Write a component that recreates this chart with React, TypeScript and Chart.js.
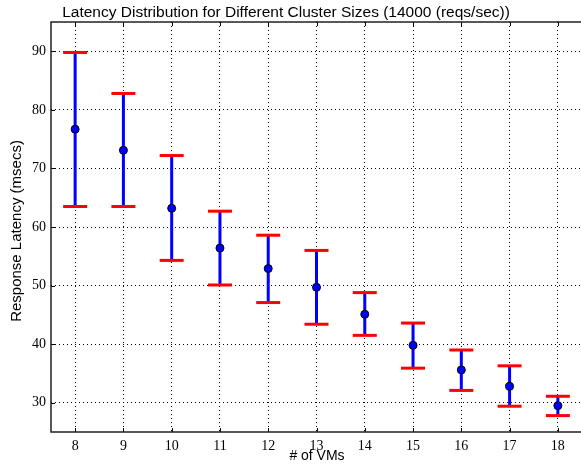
import React, { useEffect, useRef } from "react";
import { Chart, registerables } from "chart.js";

Chart.register(...registerables);

const vmCounts = [8, 9, 10, 11, 12, 13, 14, 15, 16, 17, 18];
const meanLatency = [76.7, 73.1, 63.2, 56.4, 52.9, 49.7, 45.1, 39.8, 35.6, 32.8, 29.5];
const upperLatency = [89.8, 82.8, 72.2, 62.7, 58.6, 56.0, 48.8, 43.6, 39.0, 36.3, 31.1];
const lowerLatency = [63.5, 63.5, 54.3, 50.1, 47.1, 43.4, 41.5, 35.9, 32.1, 29.4, 27.8];
const yTickValues = [30, 40, 50, 60, 70, 80, 90];

const titleText = "Latency Distribution for Different Cluster Sizes (14000 (reqs/sec))";
const xTitleText = "# of VMs";
const yTitleText = "Response Latency (msecs)";

const CANVAS_W = 600;
const CANVAS_H = 469;

const decorPlugin = {
  id: "decor",
  afterDraw(chart: any) {
    const { ctx, chartArea } = chart;
    const { left, right, top, bottom } = chartArea;
    ctx.save();
    ctx.strokeStyle = "#000";
    ctx.lineWidth = 1;
    const xs = chart.scales.x;
    const ys = chart.scales.y;
    ctx.beginPath();
    xs.ticks.forEach((t: any) => {
      const px = Math.round(xs.getPixelForValue(t.value)) + 0.5;
      ctx.moveTo(px, bottom);
      ctx.lineTo(px, bottom - 4);
      ctx.moveTo(px, top);
      ctx.lineTo(px, top + 4);
    });
    ys.ticks.forEach((t: any) => {
      const py = Math.round(ys.getPixelForValue(t.value)) + 0.5;
      ctx.moveTo(left, py);
      ctx.lineTo(left + 4, py);
    });
    ctx.stroke();
    ctx.strokeStyle = "#222";
    ctx.lineWidth = 1.5;
    ctx.beginPath();
    ctx.moveTo(right + 10, top);
    ctx.lineTo(left, top);
    ctx.lineTo(left, bottom);
    ctx.lineTo(right + 10, bottom);
    ctx.stroke();
    ctx.fillStyle = "#000";
    ctx.font = '15.5px "Liberation Sans", Arial, sans-serif';
    ctx.textAlign = "center";
    ctx.textBaseline = "alphabetic";
    ctx.fillText(titleText, 286, 17);
    ctx.font = '14px "Liberation Sans", Arial, sans-serif';
    ctx.textBaseline = "middle";
    ctx.fillText(xTitleText, 317, 456);
    ctx.font = '15px "Liberation Sans", Arial, sans-serif';
    ctx.translate(17, 231);
    ctx.rotate(-Math.PI / 2);
    ctx.fillText(yTitleText, 0, 0);
    ctx.restore();
  },
};

export default function App() {
  const canvasRef = useRef<HTMLCanvasElement | null>(null);

  useEffect(() => {
    if (!canvasRef.current) return;
    const barPoints: any[] = [];
    vmCounts.forEach((x, i) => {
      barPoints.push({ x, y: lowerLatency[i] });
      barPoints.push({ x, y: upperLatency[i] });
      barPoints.push({ x, y: null });
    });
    const capPoints: any[] = [];
    vmCounts.forEach((x, i) => {
      capPoints.push({ x, y: upperLatency[i] });
      capPoints.push({ x, y: lowerLatency[i] });
    });
    const meanPoints = vmCounts.map((x, i) => ({ x, y: meanLatency[i] }));

    const chart = new Chart(canvasRef.current, {
      type: "scatter",
      data: {
        datasets: [
          {
            type: "line",
            data: barPoints,
            borderColor: "#0000ff",
            borderWidth: 3,
            pointRadius: 0,
            spanGaps: false,
            order: 3,
          } as any,
          {
            data: capPoints,
            pointStyle: "line",
            pointRadius: 12,
            borderColor: "#ff0000",
            borderWidth: 3,
            showLine: false,
            order: 2,
          } as any,
          {
            data: meanPoints,
            pointStyle: "circle",
            pointRadius: 4,
            backgroundColor: "#0000ff",
            borderColor: "#000000",
            borderWidth: 1,
            showLine: false,
            order: 1,
          } as any,
        ],
      },
      options: {
        animation: false,
        responsive: false,
        devicePixelRatio: 1,
        layout: { padding: { top: 22, right: 18, left: 0, bottom: 0 } },
        plugins: {
          legend: { display: false },
          tooltip: { enabled: false },
          title: { display: false },
        },
        scales: {
          x: {
            type: "linear",
            min: 7.5,
            max: 18.5,
            afterBuildTicks: (s: any) => {
              s.ticks = vmCounts.map((v) => ({ value: v }));
            },
            afterFit: (s: any) => {
              s.height = 37;
            },
            grid: { color: "#000", lineWidth: 1, drawTicks: false },
            border: { display: false, dash: [1, 3] },
            ticks: {
              font: { family: '"Liberation Serif", serif', size: 14 },
              color: "#000",
              padding: 6,
              maxRotation: 0,
              autoSkip: false,
            },
          },
          y: {
            type: "linear",
            min: 25,
            max: 95,
            afterBuildTicks: (s: any) => {
              s.ticks = yTickValues.map((v) => ({ value: v }));
            },
            afterFit: (s: any) => {
              s.width = 51;
            },
            grid: { color: "#000", lineWidth: 1, drawTicks: false },
            border: { display: false, dash: [1, 3] },
            ticks: {
              font: { family: '"Liberation Serif", serif', size: 14 },
              color: "#000",
              padding: 5,
            },
          },
        },
      },
      plugins: [decorPlugin],
    });
    return () => chart.destroy();
  }, []);

  return (
    <div
      style={{
        position: "fixed",
        left: 0,
        top: 0,
        width: 581,
        height: 469,
        overflow: "hidden",
        background: "#fff",
      }}
    >
      <canvas
        ref={canvasRef}
        width={CANVAS_W}
        height={CANVAS_H}
        style={{ display: "block", width: CANVAS_W, height: CANVAS_H }}
      />
    </div>
  );
}
